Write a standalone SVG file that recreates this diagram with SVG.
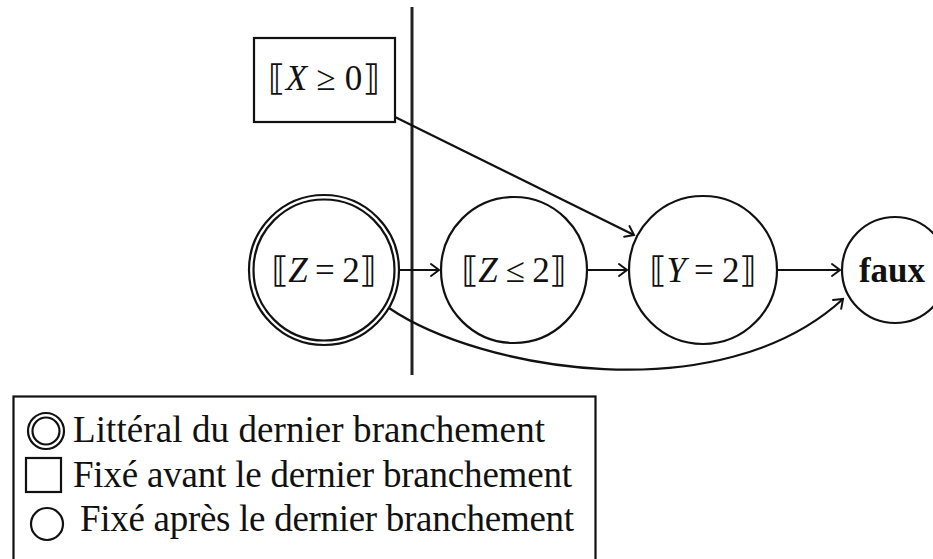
<svg xmlns="http://www.w3.org/2000/svg" width="933" height="559" viewBox="0 0 933 559">
<style>
.s{fill:none;stroke:#111;stroke-width:2.2}
.m{font-family:"Liberation Serif","DejaVu Sans",serif;font-size:35px;fill:#111;text-anchor:middle}
.i{font-style:italic}
.b{font-weight:bold}
.l{font-family:"Liberation Serif","DejaVu Serif",serif;font-size:37px;fill:#111}
</style>
<defs>
<marker id="a" markerUnits="userSpaceOnUse" markerWidth="20" markerHeight="20" viewBox="-10 -10 20 20" refX="0" refY="0" orient="auto">
<path d="M-8,-6 Q-2,-1.5 0,0 Q-2,1.5 -8,6" fill="none" stroke="#111" stroke-width="2" stroke-linecap="round"/>
</marker>
</defs>
<rect width="933" height="559" fill="#fff"/>
<line x1="412" y1="7" x2="412" y2="375" stroke="#222" stroke-width="3"/>
<g id="nX">
<rect class="s" x="254" y="38" width="141" height="84"/>
<text class="m" x="324" y="90" textLength="112" lengthAdjust="spacing">⟦<tspan class="i">X</tspan> ≥ 0⟧</text>
</g>
<g id="nZ2">
<circle class="s" cx="324" cy="270" r="75" stroke-width="1.9"/>
<circle class="s" cx="324" cy="270" r="70.5" stroke-width="1.9"/>
<text class="m" x="324" y="282" textLength="105" lengthAdjust="spacing">⟦<tspan class="i">Z</tspan> = 2⟧</text>
</g>
<g id="nZle">
<circle class="s" cx="514" cy="270" r="73"/>
<text class="m" x="514" y="282" textLength="105" lengthAdjust="spacing">⟦<tspan class="i">Z</tspan> ≤ 2⟧</text>
</g>
<g id="nY">
<circle class="s" cx="703" cy="270" r="74"/>
<text class="m" x="703" y="282" textLength="107" lengthAdjust="spacing">⟦<tspan class="i">Y</tspan> = 2⟧</text>
</g>
<g id="nF">
<circle class="s" cx="895" cy="270" r="53"/>
<text class="m b" x="892" y="282">faux</text>
</g>
<g id="edges" class="s">
<line x1="400" y1="270" x2="439" y2="270" marker-end="url(#a)"/>
<line x1="588" y1="270" x2="627" y2="270" marker-end="url(#a)"/>
<line x1="778" y1="270" x2="840" y2="270" marker-end="url(#a)"/>
<line x1="395" y1="117" x2="634" y2="235" marker-end="url(#a)"/>
<path d="M389,308 C480,370 720,412 843,299" marker-end="url(#a)"/>
</g>
<g id="legend">
<rect class="s" x="13.5" y="396.5" width="582" height="200"/>
<circle class="s" cx="46" cy="431" r="18" stroke-width="1.9"/>
<circle class="s" cx="46" cy="431" r="13.5" stroke-width="1.9"/>
<text class="l" x="73" y="442" textLength="472" lengthAdjust="spacing">Littéral du dernier branchement</text>
<rect class="s" x="26" y="458" width="35" height="34"/>
<text class="l" x="73" y="487" textLength="499" lengthAdjust="spacing">Fixé avant le dernier branchement</text>
<circle class="s" cx="47" cy="524" r="16"/>
<text class="l" x="80" y="531" textLength="494" lengthAdjust="spacing">Fixé après le dernier branchement</text>
</g>
</svg>
